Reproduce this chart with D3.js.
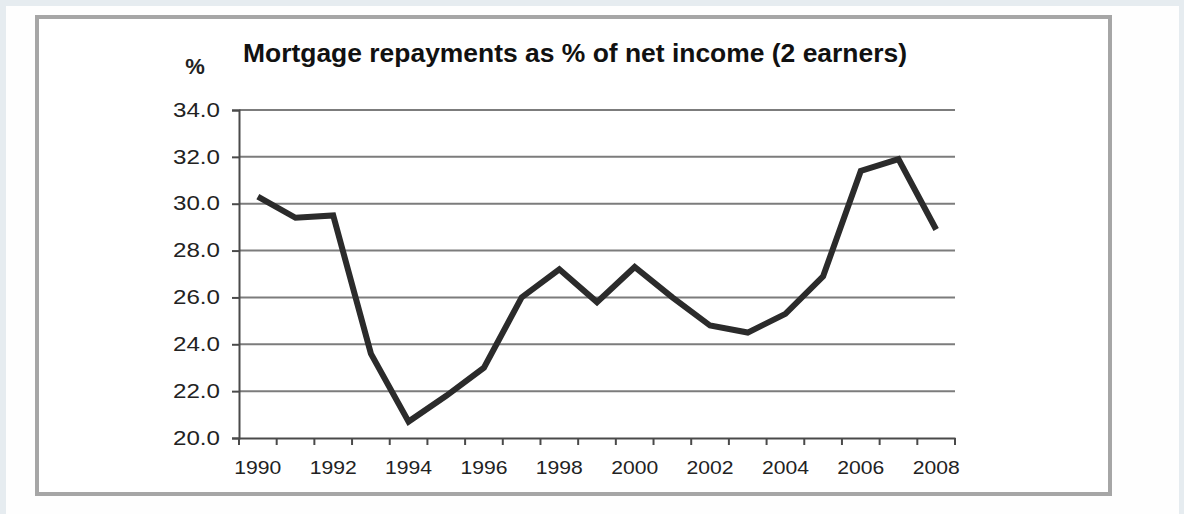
<!DOCTYPE html>
<html>
<head>
<meta charset="utf-8">
<script src="https://cdn.jsdelivr.net/npm/d3@7"></script>
<style>
  html, body { margin: 0; padding: 0; background: #e6ecf0; }
  svg { display: block; }
  text { font-family: "Liberation Sans", Arial, Helvetica, sans-serif; }
</style>
</head>
<body>
<svg id="chart" width="1184" height="514"></svg>
<script>
// Years on the category axis
const years = [1990, 1991, 1992, 1993, 1994, 1995, 1996, 1997, 1998, 1999,
               2000, 2001, 2002, 2003, 2004, 2005, 2006, 2007, 2008];
// Mortgage repayments as % of net income (2 earners)
const repaymentPct = [30.3, 29.4, 29.5, 23.6, 20.7, 21.8, 23.0, 26.0, 27.2, 25.8,
                      27.3, 26.0, 24.8, 24.5, 25.3, 26.9, 31.4, 31.9, 28.9];
// Value-axis tick labels
const yTicks = [20, 22, 24, 26, 28, 30, 32, 34];
// Years that carry a label on the category axis
const xLabelYears = [1990, 1992, 1994, 1996, 1998, 2000, 2002, 2004, 2006, 2008];

const titleText = "Mortgage repayments as % of net income (2 earners)";
const unitText = "%";

const svg = d3.select("#chart");

// page and frame
svg.append("rect").attr("x", 6).attr("y", 6).attr("width", 1173).attr("height", 508)
  .attr("fill", "#fefefe");
svg.append("rect").attr("x", 37).attr("y", 17).attr("width", 1073).attr("height", 477)
  .attr("fill", "#ffffff").attr("stroke", "#a6a6a6").attr("stroke-width", 4);

const plot = { left: 239, right: 955, top: 110, bottom: 438 };

const x = d3.scaleBand().domain(years).range([plot.left, plot.right]).padding(0);
const y = d3.scaleLinear().domain([20, 34]).range([plot.bottom, plot.top]);

// horizontal gridlines
svg.append("g").selectAll("line")
  .data(yTicks.filter(d => d !== 20))
  .join("line")
  .attr("x1", plot.left).attr("x2", plot.right)
  .attr("y1", d => y(d)).attr("y2", d => y(d))
  .attr("stroke", "#7c7c7c").attr("stroke-width", 2);

// value axis
const yAxis = svg.append("g")
  .attr("transform", `translate(${plot.left},0)`)
  .call(d3.axisLeft(y).tickValues(yTicks).tickFormat(d3.format(".1f"))
        .tickSize(7).tickPadding(12));
yAxis.select(".domain").attr("stroke", "#4a4a4a").attr("stroke-width", 2);
yAxis.selectAll(".tick line").attr("stroke", "#4a4a4a").attr("stroke-width", 2);
yAxis.selectAll(".tick text")
  .attr("font-size", 19.5).attr("fill", "#222")
  .attr("textLength", 47).attr("lengthAdjust", "spacingAndGlyphs")
  .attr("font-family", "'Liberation Sans', Arial, sans-serif");

// category axis: labels centred on each band, tick marks on band boundaries
const xAxis = svg.append("g")
  .attr("transform", `translate(0,${plot.bottom})`)
  .call(d3.axisBottom(x).tickValues(xLabelYears).tickSize(0).tickPadding(23));
xAxis.select(".domain").attr("stroke", "#4a4a4a").attr("stroke-width", 2);
xAxis.selectAll(".tick text")
  .attr("font-size", 17.7).attr("fill", "#222")
  .attr("textLength", 47).attr("lengthAdjust", "spacingAndGlyphs")
  .attr("font-family", "'Liberation Sans', Arial, sans-serif");

const boundaries = years.map(d => x(d)).concat([x.range()[1]]);
svg.append("g").selectAll("line")
  .data(boundaries)
  .join("line")
  .attr("x1", d => d).attr("x2", d => d)
  .attr("y1", plot.bottom).attr("y2", plot.bottom + 7)
  .attr("stroke", "#4a4a4a").attr("stroke-width", 2);

// series line
const line = d3.line()
  .x((d, i) => x(years[i]) + x.bandwidth() / 2)
  .y(d => y(d));
svg.append("path")
  .datum(repaymentPct)
  .attr("d", line)
  .attr("fill", "none")
  .attr("stroke", "#2b2b2b")
  .attr("stroke-width", 6)
  .attr("stroke-linejoin", "miter");

// title and unit label
svg.append("text")
  .attr("x", 243).attr("y", 62)
  .attr("font-size", 26).attr("font-weight", "bold").attr("fill", "#111")
  .attr("textLength", 664).attr("lengthAdjust", "spacingAndGlyphs")
  .text(titleText);

svg.append("text")
  .attr("x", 195).attr("y", 74)
  .attr("text-anchor", "middle")
  .attr("font-size", 22).attr("font-weight", "bold").attr("fill", "#222")
  .text(unitText);
</script>
</body>
</html>
